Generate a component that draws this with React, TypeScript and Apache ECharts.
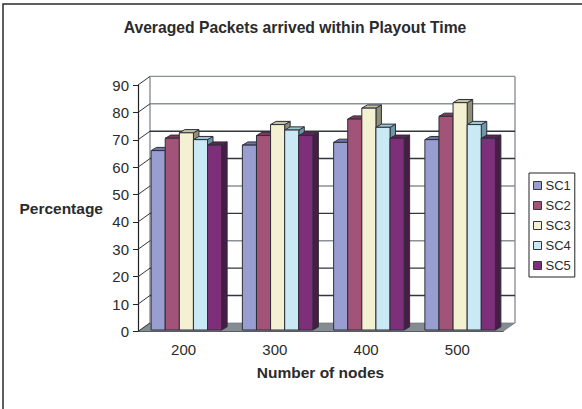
import React, { useEffect, useRef } from "react";
import * as echarts from "echarts";

const categories = ["200", "300", "400", "500"];
const seriesNames = ["SC1", "SC2", "SC3", "SC4", "SC5"];
const sc1 = [65.5, 67.5, 68.5, 69.5];
const sc2 = [70, 71, 77, 78];
const sc3 = [72, 75, 81, 83];
const sc4 = [69.5, 73, 74, 75];
const sc5 = [67.5, 71, 70, 70];
const seriesValues = [sc1, sc2, sc3, sc4, sc5];
const yTicks = [0, 10, 20, 30, 40, 50, 60, 70, 80, 90];

const FONT = "'Liberation Sans', Arial, sans-serif";
const TEXT = "#2b2b2b";

// front colour, top colour, side colour for each series
const faces = [
  ["#989fd0", "#6c74a8", "#6d749c"],
  ["#a25478", "#7d3a5a", "#6f3350"],
  ["#f3f1d2", "#c4c2a6", "#8f8f78"],
  ["#c9e9f4", "#9bc6d4", "#6f98a4"],
  ["#7e2f7a", "#5e2259", "#471c45"],
];

// The plot reads as a 3D box: the back wall sits up and to the right of the front axes.
const WALL_DX = 12;
const WALL_DY = -8.6;
const BAR_DX = 5.5;
const BAR_DY = -3.2;
const BAR_W = 14.1;
const BASE_LIFT = 1.5;
const GROUP_SHIFT = -32.5;

function renderBar(seriesIdx: number) {
  return (params: any, api: any) => {
    const cat = api.value(0);
    const val = api.value(1);
    const [cx, y0] = api.coord([cat, 0]);
    const [, y1] = api.coord([cat, val]);
    const x = cx + GROUP_SHIFT + seriesIdx * BAR_W;
    const bottom = y0 - BASE_LIFT;
    const top = y1 - BASE_LIFT;
    const [front, topC, side] = faces[seriesIdx];
    const stroke = { stroke: "#2e2e38", lineWidth: 1 };
    return {
      type: "group",
      children: [
        {
          type: "polygon",
          shape: { points: [[x + BAR_W, top], [x + BAR_W + BAR_DX, top + BAR_DY], [x + BAR_W + BAR_DX, bottom + BAR_DY], [x + BAR_W, bottom]] },
          style: { fill: side, ...stroke },
        },
        {
          type: "polygon",
          shape: { points: [[x, top], [x + BAR_DX, top + BAR_DY], [x + BAR_W + BAR_DX, top + BAR_DY], [x + BAR_W, top]] },
          style: { fill: topC, ...stroke },
        },
        { type: "rect", shape: { x, y: top, width: BAR_W, height: bottom - top }, style: { fill: front, ...stroke } },
      ],
    };
  };
}

// Grid lines of the back wall and the slanted ticks on the left wall.
function renderWallLine(params: any, api: any) {
  const v = api.value(0);
  const [x0, y] = api.coord([0, v]);
  const [x1] = api.coord([3, v]);
  const half = (x1 - x0) / 6;
  const left = x0 - half;
  const right = x1 + half;
  const dark = v === 10 || v === 20 || v === 40 || v === 60 || v === 70;
  const color = dark ? "#33363c" : "#8b9097";
  const children: any[] = [
    { type: "line", shape: { x1: left, y1: y, x2: left + WALL_DX, y2: y + WALL_DY }, style: { stroke: "#33363c", lineWidth: 1 } },
  ];
  if (v > 0) {
    children.push({
      type: "line",
      shape: { x1: left + WALL_DX, y1: y + WALL_DY, x2: right + WALL_DX, y2: y + WALL_DY },
      style: { stroke: color, lineWidth: 1.4 },
    });
  }
  return { type: "group", children };
}

// Floor plane plus the two vertical edges of the back wall.
function renderShell(params: any, api: any) {
  const [x0, y0] = api.coord([0, 0]);
  const [x1] = api.coord([3, 0]);
  const [, yTop] = api.coord([0, 90]);
  const half = (x1 - x0) / 6;
  const left = x0 - half;
  const right = x1 + half;
  const edge = { stroke: "#8b9097", lineWidth: 1.4 };
  return {
    type: "group",
    children: [
      {
        type: "polygon",
        shape: { points: [[left, y0], [left + WALL_DX, y0 + WALL_DY], [right + WALL_DX, y0 + WALL_DY], [right, y0]] },
        style: { fill: "#848c92", stroke: "#5e646a", lineWidth: 0.5 },
      },
      { type: "line", shape: { x1: left + WALL_DX, y1: yTop + WALL_DY, x2: left + WALL_DX, y2: y0 + WALL_DY }, style: edge },
      { type: "line", shape: { x1: right + WALL_DX, y1: yTop + WALL_DY, x2: right + WALL_DX, y2: y0 + WALL_DY }, style: edge },
    ],
  };
}

export default function App() {
  const ref = useRef<HTMLDivElement>(null);

  useEffect(() => {
    document.body.style.margin = "0";
    const chart = echarts.init(ref.current!, null, { renderer: "svg" });
    chart.setOption({
      animation: false,
      backgroundColor: "#ffffff",
      title: {
        text: "Averaged Packets arrived within Playout Time",
        left: 290,
        top: 14,
        textAlign: "center",
        textStyle: { fontFamily: FONT, fontSize: 15.7, fontWeight: "bold", color: TEXT },
      },
      legend: {
        orient: "vertical",
        left: 529,
        top: 173,
        padding: [6, 4, 5, 4],
        itemGap: 7,
        itemWidth: 8,
        itemHeight: 8,
        icon: "rect",
        borderColor: "#222",
        borderWidth: 1,
        selectedMode: false,
        data: seriesNames,
        itemStyle: { borderColor: "#33363c", borderWidth: 1 },
        textStyle: { fontFamily: FONT, fontSize: 13, color: TEXT, padding: [0, 0, 0, -1] },
      },
      grid: { left: 138, top: 85, width: 365, height: 246.5 },
      xAxis: {
        type: "category",
        data: categories,
        boundaryGap: true,
        name: "Number of nodes",
        nameLocation: "middle",
        nameGap: 33,
        nameTextStyle: { fontFamily: FONT, fontSize: 15.5, fontWeight: "bold", color: TEXT },
        axisLine: { lineStyle: { color: "#222", width: 1.2 } },
        axisTick: { length: 5, lineStyle: { color: "#222" }, alignWithLabel: false },
        axisLabel: { fontFamily: FONT, fontSize: 15, color: TEXT, margin: 10 },
      },
      yAxis: {
        type: "value",
        min: 0,
        max: 90,
        interval: 10,
        name: "Percentage",
        nameLocation: "middle",
        nameRotate: 0,
        nameGap: 35,
        nameTextStyle: { fontFamily: FONT, fontSize: 15.5, fontWeight: "bold", color: TEXT, padding: [9, 0, 0, 0] },
        axisLine: { show: true, lineStyle: { color: "#222", width: 1.2 } },
        axisTick: { show: true, length: 5, lineStyle: { color: "#222" } },
        splitLine: { show: false },
        axisLabel: { fontFamily: FONT, fontSize: 15, color: TEXT, margin: 9 },
      },
      series: [
        {
          type: "custom",
          silent: true,
          coordinateSystem: "cartesian2d",
          renderItem: renderShell,
          data: [[0]],
          z: 1,
        },
        {
          type: "custom",
          silent: true,
          coordinateSystem: "cartesian2d",
          renderItem: renderWallLine,
          encode: { y: 0 },
          data: yTicks.map((v) => [v]),
          z: 2,
        },
        ...seriesNames.map((name, i) => ({
          name,
          type: "custom",
          coordinateSystem: "cartesian2d",
          renderItem: renderBar(i),
          itemStyle: { color: faces[i][0] },
          encode: { x: 0, y: 1 },
          data: seriesValues[i].map((v, c) => [c, v]),
          z: 3 + i,
        })),
      ],
      graphic: [
        {
          type: "polyline",
          shape: { points: [[3, 409], [3, 4], [582, 4]] },
          style: { stroke: "#2a2a2a", lineWidth: 1.5, fill: "none" },
          silent: true,
        },
      ],
    });
    return () => chart.dispose();
  }, []);

  return <div ref={ref} style={{ width: 582, height: 409 }} />;
}
